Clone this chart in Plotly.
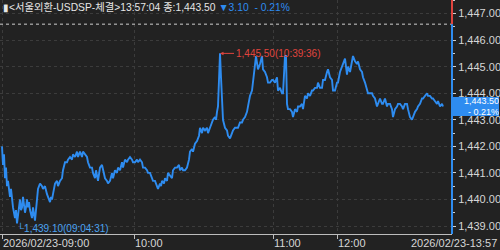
import plotly.graph_objects as go

# ---- data (tick-chart sequence index, price) ----
seq_idx = [0, 1, 2, 3, 4, 5, 6, 8, 9, 11, 13, 14, 15, 16, 17, 18, 19, 20, 21, 22, 23, 24, 25, 26, 27, 28,
           30, 31, 32, 33, 34, 35, 36, 38, 40, 41, 43, 45, 46, 48, 49, 50, 51, 53, 55, 56, 58, 60, 61, 63,
           65, 66, 68, 70, 71, 73, 75, 76, 78, 80, 81, 83, 85, 86, 88, 90, 91, 93, 94, 96, 98, 100, 101,
           103, 105, 106, 108, 110, 111, 113, 115, 116, 118, 120, 121, 123, 125, 126, 128, 130, 131, 133,
           135, 136, 138, 140, 141, 143, 145, 146, 148, 150, 151, 153, 155, 156, 158, 159, 160, 162, 163,
           165, 166, 168, 170, 171, 173, 175, 177, 178, 180, 181, 183, 185, 187, 188, 190, 191, 193, 195,
           197, 198, 200, 201, 203, 205, 206, 208, 210, 211, 213, 214, 215, 216, 217, 218, 219, 220, 221,
           223, 225, 226, 228, 230, 231, 233, 235, 236, 238, 240, 241, 243, 245, 246, 248, 250, 251, 253,
           254, 256, 258, 260, 261, 263, 265, 266, 268, 270, 271, 273, 275, 276, 278, 280, 281, 283, 284,
           285, 286, 288, 290, 291, 293, 295, 296, 298, 300, 301, 303, 305, 306, 308, 310, 311, 313, 315,
           316, 318, 320, 321, 323, 325, 326, 328, 330, 331, 333, 335, 336, 338, 340, 341, 343, 345, 346,
           348, 350, 351, 353, 355, 356, 358, 360, 361, 363, 365, 366, 368, 370, 371, 373, 375, 376, 378,
           380, 381, 383, 385, 386, 388, 390, 391, 393, 395, 396, 398, 400, 401, 403, 405, 406, 408, 410,
           411, 413, 415, 416, 418, 420, 421, 423, 425, 426, 428, 430, 431, 433, 435, 436, 438, 440, 441]
prices = [1442.0, 1441.3, 1441.7, 1440.8, 1441.2, 1440.5, 1440.7, 1440.1, 1440.4, 1439.7, 1439.3, 1439.6,
          1439.1, 1439.5, 1439.8, 1440.0, 1439.6, 1439.7, 1440.1, 1439.8, 1439.5, 1439.7, 1440.0, 1439.7,
          1439.9, 1439.6, 1439.3, 1439.7, 1439.4, 1439.2, 1439.6, 1439.9, 1440.4, 1440.6, 1440.5, 1440.4,
          1440.5, 1440.2, 1440.1, 1439.9, 1440.1, 1440.0, 1440.2, 1440.6, 1440.7, 1440.5, 1440.7, 1440.8,
          1441.1, 1441.4, 1441.4, 1441.5, 1441.6, 1441.5, 1441.7, 1441.6, 1441.8, 1441.6, 1441.8, 1441.6,
          1441.8, 1441.7, 1441.6, 1441.4, 1441.2, 1441.2, 1441.0, 1440.8, 1441.1, 1440.7, 1441.2, 1441.3,
          1441.1, 1440.8, 1440.7, 1440.6, 1440.7, 1441.0, 1440.8, 1441.1, 1441.0, 1441.2, 1441.1, 1441.4,
          1441.2, 1441.5, 1441.4, 1441.5, 1441.6, 1441.5, 1441.4, 1441.4, 1441.5, 1441.4, 1441.5, 1441.4,
          1441.2, 1441.2, 1441.1, 1441.0, 1441.0, 1440.8, 1440.7, 1440.7, 1440.5, 1440.4, 1440.6, 1440.5,
          1440.7, 1440.6, 1440.8, 1440.7, 1441.0, 1440.9, 1440.8, 1441.1, 1441.2, 1441.2, 1441.3, 1441.1,
          1441.2, 1441.1, 1441.1, 1441.2, 1441.5, 1441.8, 1441.9, 1441.8, 1442.1, 1442.2, 1442.4, 1442.7,
          1442.5, 1442.7, 1442.6, 1442.7, 1442.5, 1442.7, 1442.9, 1443.0, 1443.1, 1443.0, 1443.3, 1443.5,
          1444.5, 1445.5, 1444.6, 1443.4, 1443.0, 1442.7, 1442.6, 1442.4, 1442.3, 1442.5, 1442.6, 1442.7,
          1442.7, 1442.7, 1442.9, 1442.9, 1443.0, 1443.1, 1443.3, 1443.5, 1443.9, 1444.1, 1444.5, 1445.1,
          1445.4, 1444.9, 1445.1, 1445.4, 1444.9, 1444.8, 1444.6, 1444.4, 1444.4, 1444.5, 1444.5, 1444.4,
          1444.6, 1444.1, 1444.2, 1444.0, 1444.0, 1445.4, 1445.4, 1443.6, 1443.4, 1443.4, 1443.3, 1443.1,
          1443.4, 1443.3, 1443.5, 1443.5, 1443.6, 1443.4, 1443.9, 1443.8, 1444.0, 1443.9, 1444.1, 1444.1,
          1444.2, 1444.2, 1444.4, 1444.2, 1444.2, 1444.5, 1444.5, 1444.8, 1444.9, 1444.6, 1444.5, 1444.1,
          1444.1, 1444.4, 1444.4, 1444.8, 1445.0, 1445.1, 1445.3, 1444.7, 1445.0, 1444.8, 1445.2, 1445.4,
          1445.2, 1445.1, 1445.2, 1444.9, 1444.8, 1444.6, 1444.4, 1444.1, 1444.0, 1444.0, 1444.0, 1443.9,
          1443.8, 1443.5, 1443.6, 1443.8, 1443.6, 1443.6, 1443.8, 1443.5, 1443.6, 1443.6, 1443.4, 1443.1,
          1443.4, 1443.5, 1443.6, 1443.6, 1443.5, 1443.4, 1443.6, 1443.6, 1443.4, 1443.1, 1443.0, 1443.1,
          1443.3, 1443.4, 1443.5, 1443.6, 1443.8, 1443.8, 1443.9, 1444.0, 1443.9, 1443.9, 1443.8, 1443.8,
          1443.7, 1443.6, 1443.7, 1443.5, 1443.6, 1443.5]

hour_ticks = [0, 132, 271, 335]
hour_labels = ["2026/02/23-09:00", "10:00", "11:00", "12:00"]
end_label = "2026/02/23-13:57"
price_ticks = [1439, 1440, 1441, 1442, 1443, 1444, 1445, 1446, 1447]
prev_close = 1446.60
last_price = 1443.50
change = "3.10"
change_pct = "- 0.21%"
high_price, high_time, high_idx = 1445.50, "10:39:36", 218
low_price, low_time, low_idx = 1439.10, "09:04:31", 15
header_white = "▮&lt;서울외환-USDSP-체결&gt;13:57:04 종:1,443.50 "
y_lo, y_hi = 1438.70, 1447.51
x_lo, x_hi = -2, 450

BG = "#222222"
BLUE = "#2e8cf0"
RED = "#e0443e"
GRID = "#3c3c3c"
TXT = "#d6d6d6"
FONT = "Liberation Sans, Noto Sans CJK KR, sans-serif"

fig = go.Figure()
fig.add_trace(go.Scatter(x=seq_idx, y=prices, mode="lines",
                         line=dict(color=BLUE, width=1.9), hoverinfo="skip", showlegend=False))

fig.update_layout(
    width=500, height=250,
    margin=dict(l=0, r=48, t=0, b=16),
    paper_bgcolor=BG, plot_bgcolor=BG,
    font=dict(family=FONT, size=11, color=TXT),
    xaxis=dict(range=[x_lo, x_hi], tickvals=hour_ticks, showticklabels=False,
               ticks="outside", ticklen=4, tickcolor="#bdbdbd",
               showline=True, linecolor="#bdbdbd", linewidth=1,
               showgrid=True, gridcolor=GRID, griddash="dot", gridwidth=1, zeroline=False),
    yaxis=dict(side="right", range=[y_lo, y_hi], tickvals=price_ticks, tickformat=",.2f",
               ticks="outside", ticklen=3, tickcolor="#cfcfcf",
               tickfont=dict(color=TXT, size=11, family=FONT),
               showgrid=True, gridcolor=GRID, griddash="dot", gridwidth=1,
               zeroline=False, showline=False,
               minor=dict(dtick=0.5, ticks="outside", ticklen=2, tickcolor="#cfcfcf", showgrid=False)),
)

shapes = [
    dict(type="line", xref="x", yref="y", x0=x_lo, x1=x_hi, y0=prev_close, y1=prev_close,
         line=dict(color="#cfcfcf", width=1, dash="dot"), layer="above"),
    dict(type="line", xref="paper", yref="y", x0=1, x1=1, y0=prev_close, y1=y_hi,
         line=dict(color=RED, width=2), layer="above"),
    dict(type="line", xref="paper", yref="y", x0=1, x1=1, y0=y_lo, y1=prev_close,
         line=dict(color=BLUE, width=2), layer="above"),
]
fig.update_layout(shapes=shapes)

ann = []
# header
ann.append(dict(xref="paper", yref="paper", x=0, y=1, xanchor="left", yanchor="top", showarrow=False,
                xshift=1, yshift=0,
                text=f"<span style='color:#e6e6e6'>{header_white}</span>"
                     f"<span style='color:{BLUE}'>▼{change}  {change_pct}</span>",
                font=dict(size=10.3, family=FONT)))
# x tick labels (left aligned at tick)
for t, lab in zip(hour_ticks, hour_labels):
    ann.append(dict(xref="x", yref="paper", x=t, y=0, xanchor="left", yanchor="top", showarrow=False,
                    text=lab, yshift=-1, xshift=-1, font=dict(size=11, color=TXT, family=FONT)))
ann.append(dict(xref="paper", yref="paper", x=1, y=0, xanchor="right", yanchor="top", showarrow=False,
                text=end_label, xshift=47, yshift=-1, font=dict(size=11, color=TXT, family=FONT)))
# high marker
ann.append(dict(xref="x", yref="y", x=high_idx, y=high_price, ax=14, ay=0, showarrow=True,
                xanchor="left", arrowhead=2, arrowsize=0.7, arrowwidth=1, arrowcolor=RED,
                text=f"{high_price:,.2f}({high_time})", font=dict(size=10, color=RED, family=FONT)))
# low marker
ann.append(dict(xref="x", yref="y", x=low_idx, y=low_price, xanchor="left", yanchor="middle",
                showarrow=False, yshift=-5, xshift=-2,
                text=f"└{low_price:,.2f}({low_time})", font=dict(size=10, color="#4aa2f2", family=FONT)))
# last price box
ann.append(dict(xref="paper", yref="y", x=1, y=last_price, xanchor="left", yanchor="middle",
                showarrow=False, xshift=1, bgcolor=BLUE, borderpad=0, borderwidth=0,
                width=46, height=19, align="right",
                text=f"{last_price:,.2f}<br>{change_pct}",
                font=dict(size=9, color="#ffffff", family=FONT)))
fig.update_layout(annotations=ann)

fig.write_html("out.html")
